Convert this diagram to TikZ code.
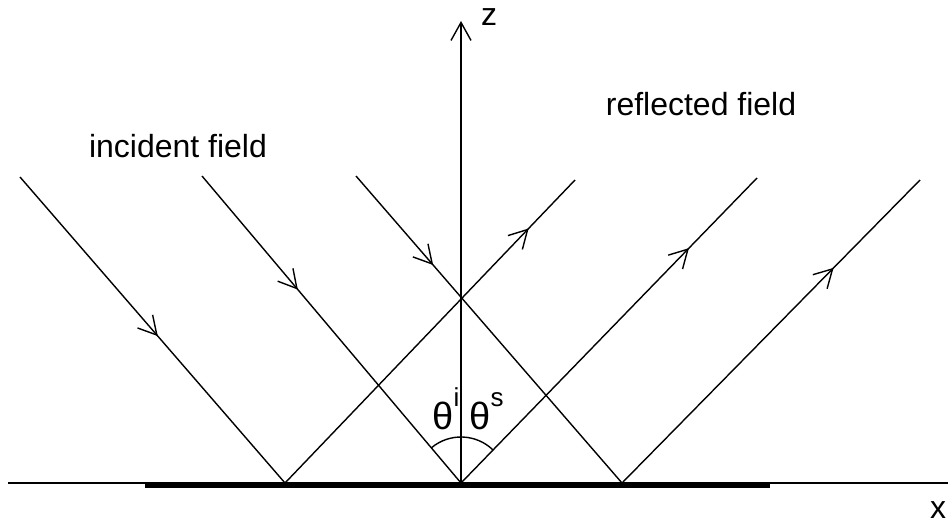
\documentclass[tikz,border=0pt]{standalone}
\usepackage{fontspec}
\setmainfont{Liberation Sans}
\usetikzlibrary{arrows.meta,decorations.markings}
\begin{document}
\begin{tikzpicture}[x=0.5pt,y=0.5pt,
  thin line/.style={line width=0.7pt,black},
  midarrow/.style={postaction={decorate},decoration={markings,mark=at position #1 with {\arrow{Straight Barb[length=9pt,width=10pt,line width=0.7pt]}}}},
  label/.style={font=\fontsize{16}{19}\selectfont,inner sep=0pt},
  greek/.style={font=\fontsize{19}{22}\selectfont,inner sep=0pt}]
\useasboundingbox (0,0) rectangle (951,525);
% axes
\coordinate (xs) at (8,42);
\coordinate (xe) at (948,42);
\coordinate (o) at (461,42);
\coordinate (zt) at (461,504);
\coordinate (bs) at (145,40);
\coordinate (be) at (770,40);
\draw[thin line] (xs) -- (xe);
\draw[line width=3pt] (bs) -- (be);
\draw[thin line,-{Straight Barb[length=9pt,width=10pt,line width=0.7pt]}] (o) -- (zt);
\node[label] (zl) at (489,508) {z};
\node[label] (xl) at (938,15) {x};
% surface points
\coordinate (p1) at (285,42);
\coordinate (p3) at (622,42);
% incident starts
\coordinate (i1) at (20,348);
\coordinate (i2) at (202,349);
\coordinate (i3) at (356,349);
% reflected ends
\coordinate (r1) at (575,345);
\coordinate (r2) at (757,347);
\coordinate (r3) at (920,345);
% incident rays
\draw[thin line,midarrow=0.52] (i1) -- (p1);
\draw[thin line,midarrow=0.37] (i2) -- (o);
\draw[thin line,midarrow=0.29] (i3) -- (p3);
% reflected rays
\draw[thin line,midarrow=0.84] (p1) -- (r1);
\draw[thin line,midarrow=0.77] (o) -- (r2);
\draw[thin line,midarrow=0.71] (p3) -- (r3);
% angle arc
\draw[thin line] ([shift={(46:23pt)}]o) arc[start angle=46,end angle=130,radius=23pt];
% labels
\node[label] (inc) at (178,379) {incident field};
\node[label] (ref) at (701,421) {reflected field};
\node[greek,anchor=base west] (ti) at (432,96) {θ\raisebox{1.1ex}{\fontsize{13}{15}\selectfont i}};
\node[greek,anchor=base west] (ts) at (469,96) {θ\raisebox{1.1ex}{\fontsize{13}{15}\selectfont s}};
\end{tikzpicture}
\end{document}
